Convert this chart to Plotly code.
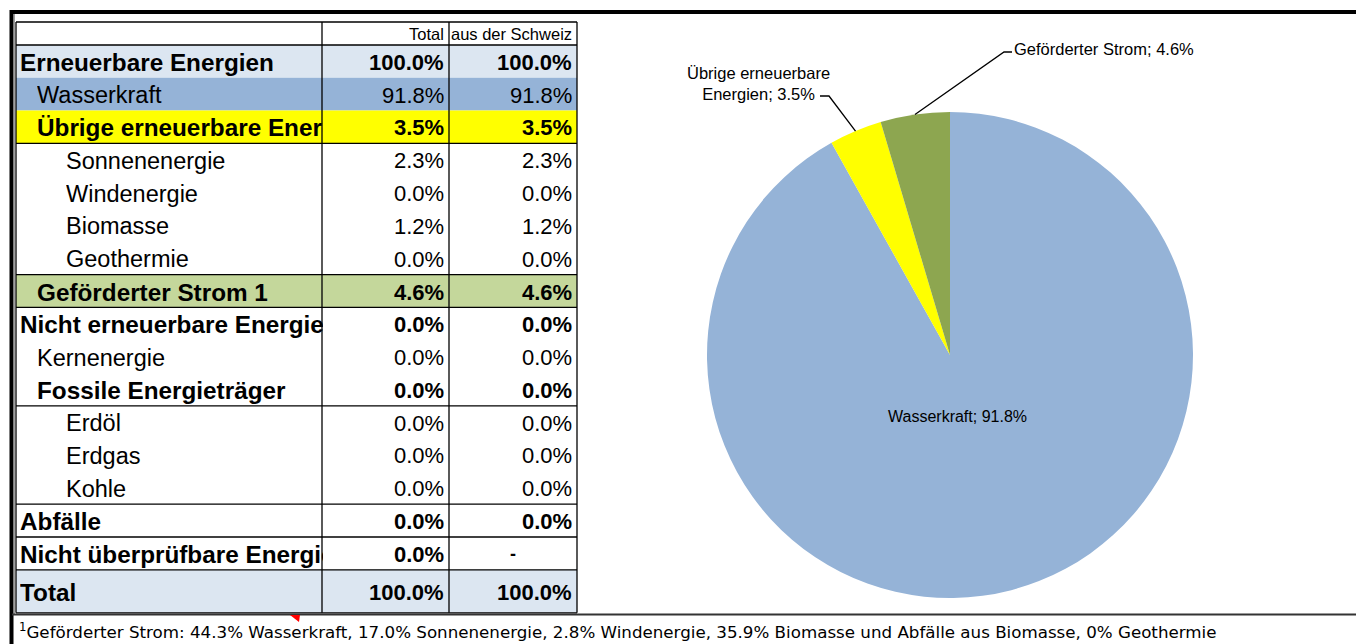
import math
import plotly.graph_objects as go

# ---------------- data ----------------
column_headers = ["", "Total", "aus der Schweiz"]
row_labels = ["Erneuerbare Energien", "Wasserkraft", "Übrige erneuerbare Energien",
              "Sonnenenergie", "Windenergie", "Biomasse", "Geothermie",
              "Geförderter Strom 1", "Nicht erneuerbare Energien", "Kernenergie",
              "Fossile Energieträger", "Erdöl", "Erdgas", "Kohle", "Abfälle",
              "Nicht überprüfbare Energien", "Total"]
total_values = ["100.0%", "91.8%", "3.5%", "2.3%", "0.0%", "1.2%", "0.0%", "4.6%",
                "0.0%", "0.0%", "0.0%", "0.0%", "0.0%", "0.0%", "0.0%", "0.0%", "100.0%"]
schweiz_values = ["100.0%", "91.8%", "3.5%", "2.3%", "0.0%", "1.2%", "0.0%", "4.6%",
                  "0.0%", "0.0%", "0.0%", "0.0%", "0.0%", "0.0%", "0.0%", "-", "100.0%"]

pie_labels = ["Wasserkraft", "Übrige erneuerbare Energien", "Geförderter Strom"]
pie_values = [91.8, 3.5, 4.6]
pie_text = ["Wasserkraft; 91.8%", "Übrige erneuerbare<br>Energien; 3.5%", "Geförderter Strom; 4.6%"]

footnote = ("<sup>1</sup>Geförderter Strom: 44.3% Wasserkraft, 17.0% Sonnenenergie, "
            "2.8% Windenergie, 35.9% Biomasse und Abfälle aus Biomasse, 0% Geothermie")

# ---------------- styles ----------------
row_bold = [1, 0, 1, 0, 0, 0, 0, 1, 1, 0, 1, 0, 0, 0, 1, 1, 1]
row_indent = [0, 1, 1, 2, 2, 2, 2, 1, 0, 1, 1, 2, 2, 2, 0, 0, 0]
row_fill = ["#DCE6F1", "#95B3D7", "#FFFF00", None, None, None, None, "#C4D79B",
            None, None, None, None, None, None, None, None, "#DCE6F1"]
line_below = [False, False, True, False, False, False, True, True, False, False,
              True, False, False, True, True, True, True]
pie_colors = ["#95B3D7", "#FFFF00", "#8DA650"]

OFF = 8  # page body margin
W, H = 1364 - OFF, 644 - OFF
FONT = "Liberation Sans, Arial, sans-serif"
FOOT_FONT = "DejaVu Sans, Verdana, sans-serif"


def px(x):
    return (x - OFF) / W


def py(y):
    return 1 - (y - OFF) / H


col_x = [16, 322, 449, 577]
header_top, header_bot = 22, 45
row_h = 32.8
total_h = 43
indent_px = [20, 37, 66]

row_tops = [header_bot + i * row_h for i in range(len(row_labels))]
row_bots = [t + row_h for t in row_tops]
row_bots[-1] = row_tops[-1] + total_h
table_bottom = row_bots[-1]

shapes = []
annotations = []

# fills
for i, f in enumerate(row_fill):
    if f:
        shapes.append(dict(type="rect", xref="paper", yref="paper",
                           x0=px(col_x[0]), x1=px(col_x[3]), y0=py(row_bots[i]), y1=py(row_tops[i]),
                           fillcolor=f, line=dict(width=0), layer="below"))

LINE = dict(color="#000000", width=1.3)
for yy in [header_top, header_bot]:
    shapes.append(dict(type="line", xref="paper", yref="paper", x0=px(col_x[0]), x1=px(col_x[3]),
                       y0=py(yy), y1=py(yy), line=LINE))
for i, lb in enumerate(line_below):
    if lb:
        shapes.append(dict(type="line", xref="paper", yref="paper", x0=px(col_x[0]), x1=px(col_x[3]),
                           y0=py(row_bots[i]), y1=py(row_bots[i]), line=LINE))
for xx in col_x:
    shapes.append(dict(type="line", xref="paper", yref="paper", x0=px(xx), x1=px(xx),
                       y0=py(header_top), y1=py(table_bottom), line=LINE))

# outer frame
shapes.append(dict(type="line", xref="paper", yref="paper", x0=px(10), x1=1,
                   y0=py(12), y1=py(12), line=dict(color="#000", width=4)))
shapes.append(dict(type="line", xref="paper", yref="paper", x0=px(11.5), x1=px(11.5),
                   y0=py(10), y1=0, line=dict(color="#000", width=4)))
shapes.append(dict(type="line", xref="paper", yref="paper", x0=px(14.5), x1=px(14.5),
                   y0=py(14), y1=py(614), line=dict(color="#A0A0A0", width=1)))
shapes.append(dict(type="line", xref="paper", yref="paper", x0=px(12), x1=1,
                   y0=py(614.5), y1=py(614.5), line=dict(color="#333333", width=2)))
# comment marker
shapes.append(dict(type="path", xref="paper", yref="paper",
                   path=f"M {px(290)} {py(615)} L {px(300)} {py(615)} L {px(299)} {py(622)} Z",
                   fillcolor="#FF0000", line=dict(width=0)))

# header text
for c in (1, 2):
    annotations.append(dict(x=px(col_x[c + 1] - 3), y=py((header_top + header_bot) / 2 + 1),
                            xref="paper", yref="paper", xanchor="right", yanchor="middle",
                            text=column_headers[c], showarrow=False,
                            font=dict(family=FONT, size=16.5, color="#000")))

# row texts
for i, lab in enumerate(row_labels):
    yc = py((row_tops[i] + row_bots[i]) / 2 + 1)
    b = row_bold[i]
    lab_font = dict(family=FONT, size=24.3 if b else 23.5, color="#000")
    val_font = dict(family=FONT, size=22, color="#000")
    t = (lambda s: f"<b>{s}</b>") if b else (lambda s: s)
    x0 = indent_px[row_indent[i]]
    annotations.append(dict(x=px(x0 - 2), y=yc, xref="paper", yref="paper", xanchor="left",
                            yanchor="middle", align="left", width=col_x[1] - x0 + 1,
                            text=t(lab), showarrow=False, font=lab_font))
    annotations.append(dict(x=px(col_x[2] - 3), y=yc, xref="paper", yref="paper", xanchor="right",
                            yanchor="middle", text=t(total_values[i]), showarrow=False, font=val_font))
    sv = schweiz_values[i]
    if sv == "-":
        annotations.append(dict(x=px((col_x[2] + col_x[3]) / 2), y=yc, xref="paper", yref="paper",
                                xanchor="center", yanchor="middle", text=t(sv), showarrow=False,
                                font=dict(family=FONT, size=18, color="#000")))
    else:
        annotations.append(dict(x=px(col_x[3] - 3), y=yc, xref="paper", yref="paper", xanchor="right",
                                yanchor="middle", text=t(sv), showarrow=False, font=val_font))

# footnote
annotations.append(dict(x=px(17), y=py(631), xref="paper", yref="paper", xanchor="left",
                        yanchor="middle", text=footnote, showarrow=False,
                        font=dict(family=FOOT_FONT, size=16.7, color="#000")))

# ---------------- pie ----------------
cx, cy, r = 950, 355, 243
fig = go.Figure()
fig.add_trace(go.Pie(labels=pie_labels, values=pie_values, sort=False, direction="clockwise",
                     rotation=0, textinfo="none", hoverinfo="label+percent",
                     marker=dict(colors=pie_colors, line=dict(width=0)),
                     domain=dict(x=[px(cx - r), px(cx + r)], y=[py(cy + r), py(cy - r)]),
                     showlegend=False))

tot = sum(pie_values)
cum = 0
mids = []
for v in pie_values:
    mids.append((cum + v / 2) / tot * 2 * math.pi)
    cum += v


def edge(theta, f=1.0):
    return cx + f * r * math.sin(theta), cy - f * r * math.cos(theta)


ix, iy = edge(mids[0], 0.26)
annotations.append(dict(x=px(ix - 8), y=py(iy), xref="paper", yref="paper", xanchor="center",
                        yanchor="middle", text=pie_text[0], showarrow=False,
                        font=dict(family=FONT, size=16, color="#000")))

label_specs = [
    # slice index, elbow (x,y), line end (x,y), text anchor (x,y), xanchor
    (1, (829, 96), (820, 96), (759, 83), "center"),
    (2, (1004, 52), (1012, 52), (1012, 49), "left"),
]
for k, elb, end, tpos, xa in label_specs:
    ex, ey = edge(mids[k])
    shapes.append(dict(type="path", xref="paper", yref="paper",
                       path=f"M {px(ex)} {py(ey)} L {px(elb[0])} {py(elb[1])} L {px(end[0])} {py(end[1])}",
                       line=dict(color="#000", width=1.3)))
    annotations.append(dict(x=px(tpos[0]), y=py(tpos[1]), xref="paper", yref="paper", xanchor=xa,
                            yanchor="middle", align="center", text=pie_text[k], showarrow=False,
                            font=dict(family=FONT, size=16.5, color="#000")))

fig.update_layout(width=W, height=H, margin=dict(l=0, r=0, t=0, b=0),
                  paper_bgcolor="#FFFFFF", plot_bgcolor="#FFFFFF",
                  shapes=shapes, annotations=annotations, showlegend=False)
fig.write_html("out.html")
